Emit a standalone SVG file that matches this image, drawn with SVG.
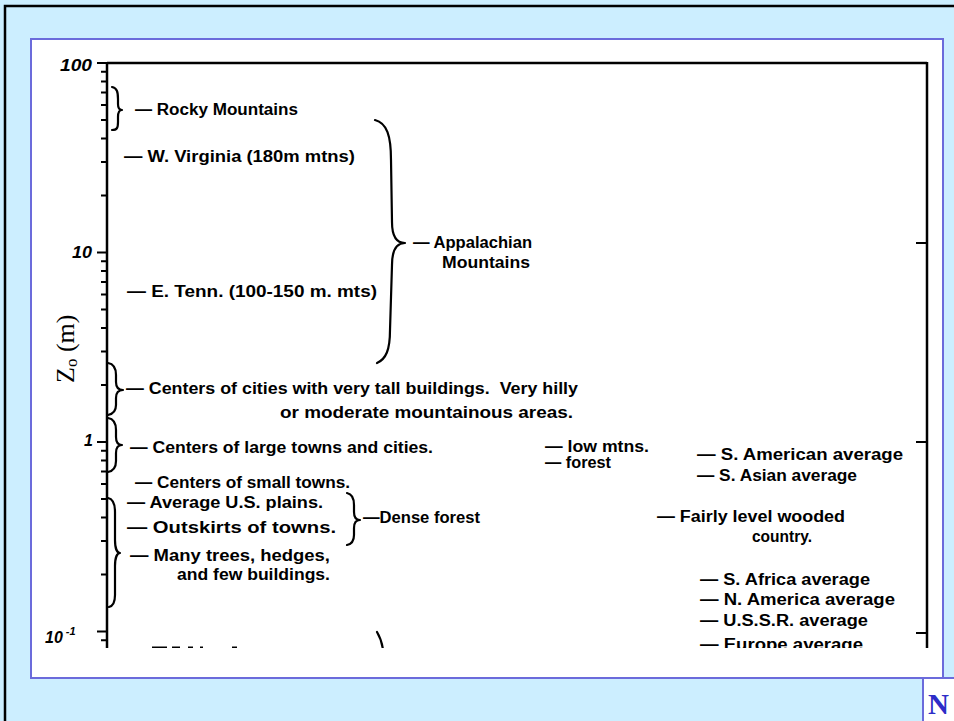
<svg xmlns="http://www.w3.org/2000/svg" width="954" height="721" viewBox="0 0 954 721">
<defs>
<style>
.t{font-family:"Liberation Sans",Arial,sans-serif;font-size:16px;font-weight:bold;fill:#000;white-space:pre}
.ax{font-family:"Liberation Sans",Arial,sans-serif;font-style:italic;font-weight:bold;font-size:16px;fill:#000}
.br{fill:none;stroke:#000;stroke-width:2.2;stroke-linecap:round;stroke-linejoin:round}
.axis{fill:none;stroke:#000;stroke-width:2.5}
.tick{stroke:#000;stroke-width:2}
.frame{stroke:#6b6bdb;stroke-width:2}
</style>
<clipPath id="plot"><rect x="0" y="0" width="954" height="648"/></clipPath>
</defs>
<rect x="0" y="0" width="954" height="721" fill="#cceeff"/>
<rect x="5" y="6" width="960" height="730" fill="none" stroke="#000" stroke-width="2.5"/>
<rect class="frame" x="31" y="39" width="912" height="639" fill="#fff"/>
<g id="page-tab">
<rect class="frame" x="923" y="678" width="40" height="50" fill="#fff"/>
<text x="928" y="714" font-family="Liberation Serif,serif" font-weight="bold" font-size="29" fill="#2d2dc8">N</text>
</g>
<g clip-path="url(#plot)">
<g id="axes">
<path class="axis" d="M107,63 H927 M107,62 V650 M927,62 V650"/>
<path class="tick" d="M97,63 H107 M97,252.5 H107 M97,442 H107 M97,631.5 H107
M101,71.7 H107 M101,81.4 H107 M101,92.4 H107 M101,105 H107 M101,120 H107 M101,138.4 H107 M101,162.1 H107 M101,195.5 H107
M101,261.2 H107 M101,270.9 H107 M101,281.9 H107 M101,294.5 H107 M101,309.5 H107 M101,327.9 H107 M101,351.6 H107 M101,385 H107
M101,450.7 H107 M101,460.4 H107 M101,471.4 H107 M101,484 H107 M101,499 H107 M101,517.4 H107 M101,541.1 H107 M101,574.5 H107
M101,640.2 H107
M916,243 H927 M916,442 H927 M916,633 H927"/>
<text class="ax" x="60" y="71" textLength="32" lengthAdjust="spacingAndGlyphs">100</text>
<text class="ax" x="72" y="258" textLength="20" lengthAdjust="spacingAndGlyphs">10</text>
<text class="ax" x="84" y="446" font-size="13">1</text>
<text class="ax" x="45" y="643" font-size="15">10<tspan font-size="11" dy="-8"> -1</tspan></text>
<text x="74" y="383" transform="rotate(-90 74 383)" font-family="Liberation Serif,serif" font-size="26" fill="#000">Z<tspan font-size="17" dy="3">o</tspan><tspan dy="-3"> (m)</tspan></text>
</g>
<g id="connectors">
<path class="br" d="M112,87 C117,88 118,92 118,99 L118,104 C118,108 119,110 122,110 C119,110 118,113 118,117 L118,122 C118,128 117,130 112,130"/>
<path class="br" stroke-width="2.6" d="M375,120 C387,123 391,136 391,160 L392,222 C392,236 396,243 405,243 C396,243 392,251 392,265 L390,330 C390,350 386,359 377,363"/>
<path class="br" d="M108,363 C114,364 116,368 116,375 L116,382 C116,387 118,390 123,390 C118,390 116,393 116,398 L116,405 C116,411 113,414 108,415"/>
<path class="br" d="M108,418 C114,419 116,423 116,430 L116,437 C116,442 118,445 122,445 C118,445 116,448 116,453 L116,461 C116,467 113,471 108,472"/>
<path class="br" d="M108,498 C113,499 115,504 115,512 L115,540 C115,548 117,553 120,553 C117,553 115,558 115,566 L115,595 C115,602 113,606 109,607"/>
<path class="br" d="M347,493 C352,494 354,498 354,505 L354,512 C354,517 356,520 360,520 C356,520 354,523 354,528 L354,535 C354,541 352,544 347,545"/>
<path class="br" d="M377,632 C380,637 382,642 383,650"/>
<path d="M152,646.5 h15 v1.5 h-15z M172,646.5 h8 v1.5 h-8z M188,646.5 h5 v1.5 h-5z M200,646.5 h3 v1.5 h-3z M232,646.5 h5 v1.5 h-5z" fill="#000"/>
</g>
<g id="n-rocky"><text class="t" x="135" y="115" textLength="163" lengthAdjust="spacingAndGlyphs">— Rocky Mountains</text></g>
<g id="n-wvirginia"><text class="t" x="124" y="162" textLength="231" lengthAdjust="spacingAndGlyphs">— W. Virginia (180m mtns)</text></g>
<g id="n-appalachian">
<text class="t" x="413" y="248" textLength="119" lengthAdjust="spacingAndGlyphs">— Appalachian</text>
<text class="t" x="442" y="268" textLength="88" lengthAdjust="spacingAndGlyphs">Mountains</text>
</g>
<g id="n-etenn"><text class="t" x="127" y="297" textLength="250" lengthAdjust="spacingAndGlyphs">— E. Tenn. (100-150 m. mts)</text></g>
<g id="n-cities-tall">
<text class="t" x="126" y="394" textLength="452" lengthAdjust="spacingAndGlyphs">— Centers of cities with very tall buildings.  Very hilly</text>
<text class="t" x="280" y="418" textLength="293" lengthAdjust="spacingAndGlyphs">or moderate mountainous areas.</text>
</g>
<g id="n-large-towns"><text class="t" x="130" y="453" textLength="303" lengthAdjust="spacingAndGlyphs">— Centers of large towns and cities.</text></g>
<g id="n-small-towns"><text class="t" x="135" y="488" textLength="215" lengthAdjust="spacingAndGlyphs">— Centers of small towns.</text></g>
<g id="n-plains"><text class="t" x="127" y="508" textLength="196" lengthAdjust="spacingAndGlyphs">— Average U.S. plains.</text></g>
<g id="n-outskirts"><text class="t" x="127" y="533" textLength="209" lengthAdjust="spacingAndGlyphs">— Outskirts of towns.</text></g>
<g id="n-trees">
<text class="t" x="130" y="561" textLength="200" lengthAdjust="spacingAndGlyphs">— Many trees, hedges,</text>
<text class="t" x="177" y="580" textLength="153" lengthAdjust="spacingAndGlyphs">and few buildings.</text>
</g>
<g id="n-dense-forest"><text class="t" x="363" y="523" textLength="117" lengthAdjust="spacingAndGlyphs">—Dense forest</text></g>
<g id="n-low-mtns"><text class="t" x="545" y="452" textLength="104" lengthAdjust="spacingAndGlyphs">— low mtns.</text></g>
<g id="n-forest"><text class="t" x="545" y="468" textLength="66" lengthAdjust="spacingAndGlyphs">— forest</text></g>
<g id="n-s-america"><text class="t" x="697" y="460" textLength="206" lengthAdjust="spacingAndGlyphs">— S. American average</text></g>
<g id="n-s-asia"><text class="t" x="697" y="481" textLength="160" lengthAdjust="spacingAndGlyphs">— S. Asian average</text></g>
<g id="n-wooded">
<text class="t" x="657" y="522" textLength="188" lengthAdjust="spacingAndGlyphs">— Fairly level wooded</text>
<text class="t" x="752" y="542" textLength="60" lengthAdjust="spacingAndGlyphs">country.</text>
</g>
<g id="n-s-africa"><text class="t" x="700" y="585" textLength="170" lengthAdjust="spacingAndGlyphs">— S. Africa average</text></g>
<g id="n-n-america"><text class="t" x="700" y="605" textLength="195" lengthAdjust="spacingAndGlyphs">— N. America average</text></g>
<g id="n-ussr"><text class="t" x="700" y="626" textLength="168" lengthAdjust="spacingAndGlyphs">— U.S.S.R. average</text></g>
<g id="n-europe"><text class="t" x="700" y="650" textLength="163" lengthAdjust="spacingAndGlyphs">— Europe average</text></g>
</g>
</svg>
